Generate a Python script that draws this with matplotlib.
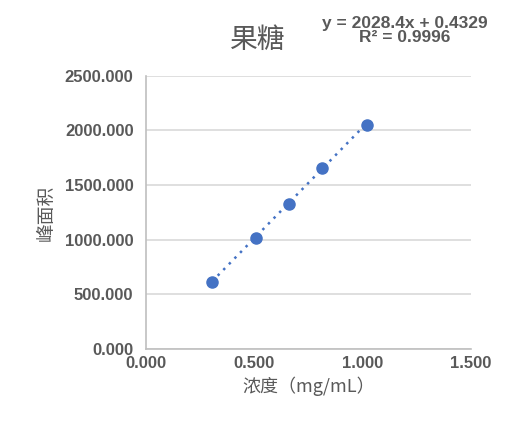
import numpy as np
import matplotlib
matplotlib.use('Agg')
import matplotlib.pyplot as plt

plt.rcParams['font.family'] = ['Liberation Sans', 'Noto Sans CJK SC']

conc = [0.305, 0.508, 0.660, 0.812, 1.018]
area = [615, 1020, 1330, 1660, 2050]
slope = 2028.4
intercept = 0.4329
r2 = 0.9996

GRAY = '#595959'
BLUE = '#4472C4'
CJK = ['Noto Sans CJK SC', 'DejaVu Sans']


def main():
    fig = plt.figure(figsize=(5.16, 4.36), dpi=100)
    ax = fig.add_axes([0.283, 0.1995, 0.630, 0.6265])

    xs = np.array([conc[0], conc[-1]])
    ax.plot(xs, slope * xs + intercept, linestyle=(0, (1, 2.2)), color=BLUE, lw=1.8, zorder=2)
    ax.plot(conc, area, 'o', color=BLUE, markersize=8, zorder=3)

    ax.set_xlim(0, 1.5)
    ax.set_ylim(0, 2500)
    ax.set_xticks([0, 0.5, 1.0, 1.5])
    ax.set_yticks(np.arange(0, 2501, 500))
    ax.xaxis.set_major_formatter(matplotlib.ticker.FormatStrFormatter('%.3f'))
    ax.yaxis.set_major_formatter(matplotlib.ticker.FormatStrFormatter('%.3f'))
    ax.grid(axis='y', color='#d9d9d9', lw=1.2)
    ax.set_axisbelow(True)
    for s in ['top', 'right']:
        ax.spines[s].set_visible(False)
    for s in ['left', 'bottom']:
        ax.spines[s].set_color('#bfbfbf')
        ax.spines[s].set_linewidth(1.2)
    ax.tick_params(length=0, pad=5, labelcolor=GRAY)
    ax.tick_params(axis='y', pad=9)
    for lab in ax.get_xticklabels() + ax.get_yticklabels():
        lab.set_fontweight('bold')
        lab.set_fontsize(12)

    ax.set_xlabel('浓度（mg/mL）', color=GRAY, fontsize=13, family=CJK, fontweight='medium', labelpad=4)
    ax.set_ylabel('峰面积', color=GRAY, fontsize=13.5, family=CJK, fontweight='medium', labelpad=6)

    fig.text(0.500, 0.908, '果糖', ha='center', va='center', fontsize=20, family=CJK,
             fontweight='medium', color=GRAY)
    fig.text(0.785, 0.930, 'y = 2028.4x + 0.4329\nR² = 0.9996', ha='center', va='center',
             fontsize=12.5, fontweight='bold', color=GRAY, linespacing=0.9)

    fig.savefig('out.png', dpi=100)


if __name__ == '__main__':
    main()
